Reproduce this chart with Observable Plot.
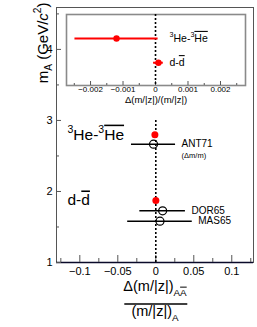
<!DOCTYPE html>
<html><head><meta charset="utf-8">
<script src="https://cdn.jsdelivr.net/npm/d3@7"></script>
<script src="https://cdn.jsdelivr.net/npm/@observablehq/plot@0.6"></script>
<style>
body{margin:0;background:#fff;}
#wrap{position:relative;width:257px;height:327px;font-family:"Liberation Sans",Arial,sans-serif;}
#wrap svg{position:absolute;left:0;top:0;overflow:visible;background:transparent;}
</style></head><body><div id="wrap"></div>
<script>
// ALICE measurements (red): mass (GeV/c^2), relative difference, total error
const aliceNames = ["d-~{d}", "^{3}He-^{3}~{He}"];
const aliceMass = [1.873, 2.80];
const aliceDelta = [0.00009, -0.0012];
const aliceErr = [0.00015, 0.00128];
// earlier measurements (open circles)
const refNames = ["ANT71", "DOR65", "MAS65"];
const refNotes = ["(Δm/m)", "", ""];
const refMass = [2.666, 1.728, 1.582];
const refDelta = [-0.003, 0.009, 0.0055];
const refErr = [0.029, 0.030, 0.0425];
// axes
const mainXTicks = [-0.1, -0.05, 0, 0.05, 0.1];
const mainXMinor = [-0.125, -0.075, -0.025, 0.025, 0.075, 0.125];
const mainYTicks = [1, 2, 3, 4];
const mainYMinor = [1.5, 2.5, 3.5, 4.5];
const insetXTicks = [-0.002, -0.001, 0, 0.001, 0.002];
const insetXMinor = [-0.0025, -0.0015, -0.0005, 0.0005, 0.0015, 0.0025];
const yTitle = ["m_{A} (GeV/$i{c}^{2})"];
const xTitleNum = ["Δ(m/|z|)_{A}_~{A}"];
const xTitleDen = ["(m/|z|)_{A}"];
const insetXTitle = ["Δ(m/|z|)/(m/|z|)"];

const alice = aliceNames.map((n, i) => ({name: n, m: aliceMass[i], d: aliceDelta[i], e: aliceErr[i]}));
const refs = refNames.map((n, i) => ({name: n, note: refNotes[i], m: refMass[i], d: refDelta[i], e: refErr[i]}));

const FONT = '"Liberation Sans", Arial, sans-serif';
const fmt = d => d === 0 ? "0" : d3.format("~g")(d);

// tiny markup: ^{sup} _{sub} ~{overline} _~{sub overline} $i{italic}
function rich(el, str, fs) {
  const sel = d3.select(el);
  sel.text(null);
  const re = /(\^|_~|_|~|\$i)\{([^}]*)\}|([^^_~$]+)/g;
  let m, cur = 0;
  while ((m = re.exec(str))) {
    const kind = m[1] || "", t = m[2] !== undefined ? m[2] : m[3];
    const target = kind === "^" ? -0.42 * fs : (kind === "_" || kind === "_~") ? 0.32 * fs : 0;
    const ts = sel.append("tspan").text(t);
    if (target !== cur) ts.attr("dy", (target - cur) + "px");
    if (kind === "^" || kind === "_" || kind === "_~") ts.attr("font-size", (0.68 * fs) + "px");
    if (kind === "~" || kind === "_~") ts.attr("text-decoration", "overline");
    if (kind === "$i") ts.attr("font-style", "italic");
    cur = target;
  }
}
function richAll(svg, cls, strs, fs) {
  d3.select(svg).selectAll("." + cls + " text").each(function (_, i) { rich(this, strs[i], fs); });
}

const main = Plot.plot({
  width: 257, height: 327,
  marginLeft: 56, marginRight: 4, marginTop: 7, marginBottom: 65,
  style: {fontFamily: FONT, fontSize: "11px", background: "transparent", color: "black"},
  x: {domain: [-0.1307, 0.1286]},
  y: {domain: [1, 4.59]},
  marks: [
    Plot.frame({stroke: "#555"}),
    Plot.ruleY([1], {stroke: "#0a0a2a", strokeWidth: 1.5}),
    Plot.axisX({ticks: mainXTicks, tickSize: 0, tickPadding: 5, tickFormat: fmt, label: null, fontSize: 11}),
    Plot.axisX({ticks: mainXTicks, tickSize: 7, dy: -7, text: null, label: null, stroke: "#555"}),
    Plot.axisX({ticks: mainXMinor, tickSize: 4, dy: -4, text: null, label: null, stroke: "#555"}),
    Plot.axisY({ticks: mainYTicks, tickSize: 0, tickPadding: 4, tickFormat: d => String(d), label: null, fontSize: 11}),
    Plot.axisY({ticks: mainYTicks, tickSize: 5, dx: 5, text: null, label: null, stroke: "#555"}),
    Plot.axisY({ticks: mainYMinor, tickSize: 3, dx: 3, text: null, label: null, stroke: "#555"}),
    Plot.ruleX([0], {y1: 1, y2: 3, stroke: "black", strokeWidth: 1.6, strokeDasharray: "2,2"}),
    Plot.ruleY(refs, {y: "m", x1: d => d.d - d.e, x2: d => d.d + d.e, stroke: "black", strokeWidth: 1.5}),
    Plot.dot(refs, {x: "d", y: "m", r: 4, stroke: "black", fill: "none", strokeWidth: 1.2}),
    Plot.dot(alice, {x: "d", y: "m", r: 3.5, fill: "red", stroke: "none"}),
    Plot.text(refs, {x: d => d.d + d.e, y: "m", text: "name", dx: 6, textAnchor: "start", fontSize: 10}),
    Plot.text(refs, {x: d => d.d + d.e, y: "m", text: "note", dx: 6, dy: 11, textAnchor: "start", fontSize: 7.5}),
    Plot.text(alice, {frameAnchor: "left", y: "m", text: "name", dx: 11, textAnchor: "start", fontSize: 15.5, className: "big-label"}),
    Plot.text(yTitle, {frameAnchor: "top-left", rotate: -90, textAnchor: "end", lineAnchor: "bottom", dx: -9, dy: -5, fontSize: 15, className: "y-title"}),
    Plot.text(xTitleNum, {frameAnchor: "bottom", dy: 28.5, fontSize: 14.5, className: "x-num"}),
    Plot.text(xTitleDen, {frameAnchor: "bottom", dy: 53.5, fontSize: 14.5, className: "x-den"})
  ]
});
richAll(main, "big-label", aliceNames, 15.5);
richAll(main, "y-title", yTitle, 15);
richAll(main, "x-num", xTitleNum, 14.5);
richAll(main, "x-den", xTitleDen, 14.5);
{
  const sx = main.scale("x").apply(0);
  d3.select(main).append("line")
    .attr("x1", sx - 31).attr("x2", sx + 32)
    .attr("y1", 304).attr("y2", 304)
    .attr("stroke", "black").attr("stroke-width", 1.3);
}

const inset = Plot.plot({
  width: 257, height: 110,
  marginLeft: 66, marginRight: 12, marginTop: 14, marginBottom: 25,
  style: {fontFamily: FONT, fontSize: "8px", background: "transparent", color: "black"},
  x: {domain: [-0.00274, 0.00277]},
  y: {domain: [1, 3.72], axis: null},
  marks: [
    Plot.frame({stroke: "#8a8a8a", strokeWidth: 1.6}),
    Plot.axisX({ticks: insetXTicks, tickSize: 0, tickPadding: 1, tickFormat: fmt, label: null, fontSize: 8}),
    Plot.axisX({ticks: insetXTicks, tickSize: 4, dy: -4, text: null, label: null, stroke: "#555"}),
    Plot.axisX({ticks: insetXMinor, tickSize: 2, dy: -2, text: null, label: null, stroke: "#555"}),
    Plot.ruleX([0], {stroke: "black", strokeWidth: 1.6, strokeDasharray: "2,2"}),
    Plot.ruleY(alice, {y: "m", x1: d => d.d - d.e, x2: d => d.d + d.e, stroke: "red", strokeWidth: 2}),
    Plot.dot(alice, {x: "d", y: "m", r: 3.2, fill: "red", stroke: "none"}),
    Plot.text(alice, {frameAnchor: "left", y: "m", text: "name", dx: 103, textAnchor: "start", fontSize: 10.5, className: "inset-label"}),
    Plot.text(insetXTitle, {frameAnchor: "bottom", dy: 17.5, fontSize: 9.5})
  ]
});
richAll(inset, "inset-label", aliceNames, 10.5);

const wrap = document.getElementById("wrap");
wrap.appendChild(main);
wrap.appendChild(inset);
</script>
</body></html>
